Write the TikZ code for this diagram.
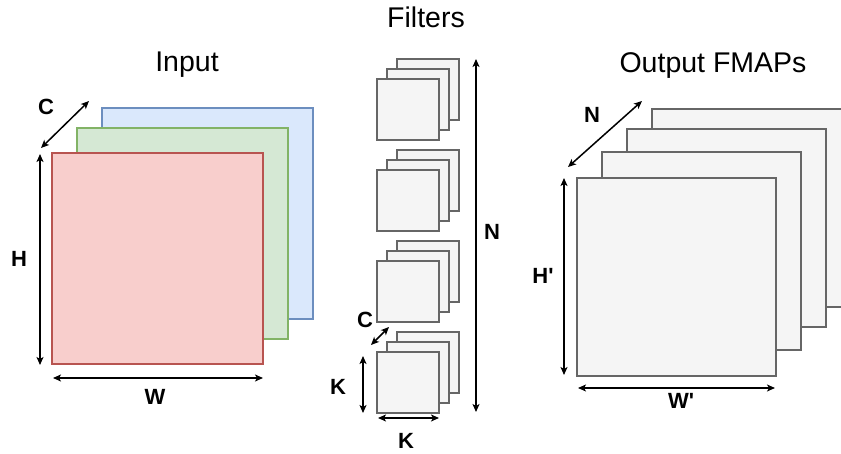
\documentclass[tikz,border=0pt]{standalone}
\usepackage{fontspec}
\setmainfont{Liberation Sans}
\usetikzlibrary{positioning, calc, arrows.meta}
\definecolor{redfill}{HTML}{F8CECC}
\definecolor{redline}{HTML}{B85450}
\definecolor{greenfill}{HTML}{D5E8D4}
\definecolor{greenline}{HTML}{82B366}
\definecolor{bluefill}{HTML}{DAE8FC}
\definecolor{blueline}{HTML}{6C8EBF}
\definecolor{grayfill}{HTML}{F5F5F5}
\definecolor{grayline}{HTML}{666666}

\begin{document}
\begin{tikzpicture}[x=1pt, y=-1pt,
    sq/.style={draw, line width=2pt, inner sep=0pt, outer sep=0pt, anchor=north west},
    flt/.style={sq, draw=grayline, fill=grayfill, minimum width=62, minimum height=61},
    fmap/.style={sq, draw=grayline, fill=grayfill, minimum width=199, minimum height=198},
    dim/.style={{Stealth[length=8pt,width=7pt,inset=2pt]}-{Stealth[length=8pt,width=7pt,inset=2pt]}, line width=1.5pt},
    lbl/.style={font=\fontsize{22}{26}\selectfont\bfseries, anchor=base, inner sep=0pt},
    ttl/.style={font=\fontsize{28.5}{34}\selectfont, anchor=base, inner sep=0pt}]
    \useasboundingbox (0,0) rectangle (841,454);

    % input
    \node (inputT) [ttl] at (187,72) {Input};
    \node (inB) [sq, draw=blueline, fill=bluefill, minimum width=211, minimum height=211] at (102,108) {};
    \node (inG) [sq, draw=greenline, fill=greenfill, minimum width=211, minimum height=211] at (77,128) {};
    \node (inR) [sq, draw=redline, fill=redfill, minimum width=211, minimum height=211] at (52,153) {};
    \coordinate (inC1) at (41,148);
    \coordinate (inC2) at (89,101);
    \coordinate (inH1) at (40,154);
    \coordinate (inH2) at (40,365);
    \coordinate (inW1) at (53,378);
    \coordinate (inW2) at (263,378);
    \draw[dim] (inC1) -- (inC2);
    \draw[dim] (inH1) -- (inH2);
    \draw[dim] (inW1) -- (inW2);
    \node (inCl) [lbl] at (46,115) {C};
    \node (inHl) [lbl] at (19,267) {H};
    \node (inWl) [lbl] at (155,404) {W};

    % filters
    \node (filtT) [ttl] at (426,28) {Filters};
    \foreach \i/\y in {1/79, 2/170, 3/261, 4/352} {
        \node (f\i c) [flt] at (397,\y-20) {};
        \node (f\i b) [flt] at (387,\y-10) {};
        \node (f\i a) [flt] at (377,\y) {};
    }
    \coordinate (fN1) at (476,59);
    \coordinate (fN2) at (476,412);
    \coordinate (fC1) at (371,345);
    \coordinate (fC2) at (389,327);
    \coordinate (fK1) at (363,356);
    \coordinate (fK2) at (363,413);
    \coordinate (fK3) at (378,418);
    \coordinate (fK4) at (439,418);
    \draw[dim] (fN1) -- (fN2);
    \draw[dim] (fC1) -- (fC2);
    \draw[dim] (fK1) -- (fK2);
    \draw[dim] (fK3) -- (fK4);
    \node (fNl) [lbl] at (492,240) {N};
    \node (fCl) [lbl] at (365,328) {C};
    \node (fKl) [lbl] at (338,394) {K};
    \node (fKm) [lbl] at (406,448) {K};

    % output fmaps
    \node (outT) [ttl] at (713,73) {Output FMAPs};
    \node (out4) [fmap] at (652,109) {};
    \node (out3) [fmap] at (627,129) {};
    \node (out2) [fmap] at (602,152) {};
    \node (out1) [fmap] at (577,178) {};
    \coordinate (oN1) at (568,167);
    \coordinate (oN2) at (642,101);
    \coordinate (oH1) at (564,178);
    \coordinate (oH2) at (564,375);
    \coordinate (oW1) at (578,388);
    \coordinate (oW2) at (775,388);
    \draw[dim] (oN1) -- (oN2);
    \draw[dim] (oH1) -- (oH2);
    \draw[dim] (oW1) -- (oW2);
    \node (oNl) [lbl] at (592,123) {N};
    \node (oHl) [lbl] at (543,284) {H\textquotesingle};
    \node (oWl) [lbl] at (681,408) {W\textquotesingle};
\end{tikzpicture}
\end{document}
